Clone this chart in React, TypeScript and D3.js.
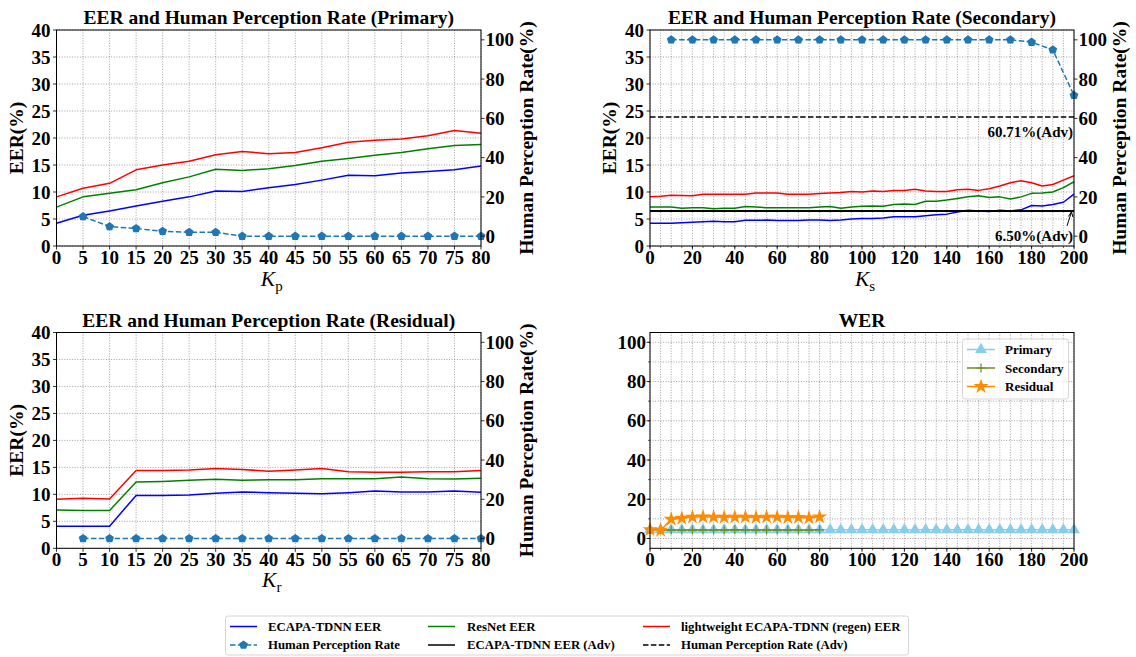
import React from "react";
import * as d3 from "d3";

const F = "'Liberation Serif', 'Times New Roman', serif";

// ---------- data ----------
const kP = [0, 5, 10, 15, 20, 25, 30, 35, 40, 45, 50, 55, 60, 65, 70, 75, 80];
const kHuman = [5, 10, 15, 20, 25, 30, 35, 40, 45, 50, 55, 60, 65, 70, 75, 80];
const primEcapa = [4.2, 5.7, 6.5, 7.4, 8.3, 9.1, 10.2, 10.1, 10.8, 11.4, 12.2, 13.1, 13.0, 13.5, 13.8, 14.1, 14.8];
const primResnet = [7.2, 9.1, 9.75, 10.4, 11.7, 12.8, 14.2, 14.0, 14.3, 14.9, 15.7, 16.2, 16.8, 17.3, 18.0, 18.6, 18.8];
const primLight = [9.1, 10.7, 11.6, 14.1, 15.0, 15.7, 16.9, 17.5, 17.1, 17.3, 18.2, 19.2, 19.6, 19.8, 20.4, 21.4, 20.9];
const primHuman = [10, 4.9, 3.9, 2.5, 2.0, 2.0, 0, 0, 0, 0, 0, 0, 0, 0, 0, 0];

const kS = [0, 5, 10, 15, 20, 25, 30, 35, 40, 45, 50, 55, 60, 65, 70, 75, 80, 85, 90, 95, 100,
  105, 110, 115, 120, 125, 130, 135, 140, 145, 150, 155, 160, 165, 170, 175, 180, 185, 190, 195, 200];
const secEcapa = [4.2, 4.2, 4.2, 4.3, 4.4, 4.5, 4.6, 4.5, 4.5, 4.75, 4.75, 4.8, 4.7, 4.7, 4.7, 4.8, 4.8, 4.7, 4.8, 5.0, 5.1,
  5.1, 5.2, 5.4, 5.4, 5.4, 5.6, 5.8, 5.9, 6.3, 6.6, 6.5, 6.4, 6.6, 6.5, 6.7, 7.5, 7.4, 7.7, 8.1, 9.6];
const secResnet = [7.2, 7.2, 7.2, 7.0, 7.1, 7.1, 6.9, 7.0, 7.0, 7.3, 7.2, 7.1, 7.1, 7.1, 7.1, 7.1, 7.2, 7.3, 7.0, 7.2, 7.35,
  7.4, 7.35, 7.7, 7.8, 7.7, 8.3, 8.3, 8.5, 8.8, 9.1, 9.3, 9.0, 9.1, 8.7, 9.1, 9.75, 9.8, 10.0, 10.8, 11.9];
const secLight = [9.1, 9.2, 9.4, 9.35, 9.3, 9.6, 9.6, 9.6, 9.6, 9.6, 9.8, 9.8, 9.8, 9.6, 9.6, 9.6, 9.7, 9.8, 9.9, 10.1, 10.0,
  10.2, 10.1, 10.3, 10.3, 10.5, 10.2, 10.1, 10.1, 10.4, 10.5, 10.3, 10.6, 11.1, 11.7, 12.1, 11.7, 11.1, 11.4, 12.2, 13.0];
const kSHuman = [10, 20, 30, 40, 50, 60, 70, 80, 90, 100, 110, 120, 130, 140, 150, 160, 170, 180, 190, 200];
const secHuman = [100, 100, 100, 100, 100, 100, 100, 100, 100, 100, 100, 100, 100, 100, 100, 100, 100, 98.8, 94.9, 71.7];
const advEer = 6.5;
const advHuman = 60.71;

const resEcapa = [4.1, 4.1, 4.1, 9.8, 9.8, 9.9, 10.2, 10.45, 10.3, 10.2, 10.1, 10.3, 10.6, 10.45, 10.45, 10.6, 10.4];
const resResnet = [7.1, 7.0, 7.0, 12.3, 12.4, 12.6, 12.8, 12.6, 12.7, 12.7, 12.9, 12.9, 12.9, 13.2, 12.9, 12.85, 13.0];
const resLight = [9.1, 9.3, 9.15, 14.4, 14.4, 14.5, 14.8, 14.6, 14.3, 14.5, 14.8, 14.2, 14.1, 14.1, 14.2, 14.2, 14.4];
const resHuman = [0, 0, 0, 0, 0, 0, 0, 0, 0, 0, 0, 0, 0, 0, 0, 0];

const werPrimary = [4.4, 4.4, 4.4, 4.4, 4.4, 4.4, 4.4, 4.4, 4.4, 4.4, 4.4, 4.4, 4.4, 4.4, 4.4, 4.4, 4.4, 4.4, 4.4, 4.4, 4.4,
  4.4, 4.4, 4.4, 4.4, 4.4, 4.4, 4.4, 4.4, 4.4, 4.4, 4.4, 4.4, 4.4, 4.4, 4.4, 4.4, 4.4, 4.4, 4.4, 4.4];
const werSecondary = [4.6, 4.3, 4.3, 4.3, 4.3, 4.3, 4.3, 4.3, 4.4, 4.3, 4.3, 4.3, 4.3, 4.3, 4.3, 4.3, 4.4];
const werResidual = [4.5, 4.2, 9.8, 10.3, 10.9, 11.0, 10.9, 10.8, 10.9, 10.9, 10.7, 10.9, 10.9, 10.7, 10.7, 10.5, 11.0];

const eerTicks = [0, 5, 10, 15, 20, 25, 30, 35, 40];
const humanTicks = [0, 20, 40, 60, 80, 100];
const kTicks80 = [0, 5, 10, 15, 20, 25, 30, 35, 40, 45, 50, 55, 60, 65, 70, 75, 80];
const kTicks200 = [0, 20, 40, 60, 80, 100, 120, 140, 160, 180, 200];
const werYTicks = [0, 20, 40, 60, 80, 100];

// ---------- style ----------
const C_BLUE = "#0000ff";
const C_GREEN = "#008000";
const C_RED = "#ff0000";
const C_HUMAN = "#1f77b4";
const C_SKY = "#87ceeb";
const C_OLIVE = "#6b8e23";
const C_ORANGE = "#ff8c00";
const GRID = "#8a8a8a";
const TICK_FS = 19;
const LBL_FS = 19.5;

type Box = { x0: number; x1: number; y0: number; y1: number };

function pentagon(r: number) {
  const pts = d3.range(5).map((i) => {
    const a = -Math.PI / 2 + (i * 2 * Math.PI) / 5;
    return [r * Math.cos(a), r * Math.sin(a)];
  });
  return "M" + pts.map((p) => p[0].toFixed(2) + "," + p[1].toFixed(2)).join("L") + "Z";
}
const PENT = pentagon(4.6);

function Grid({ b, xs, ys, sx, sy }: { b: Box; xs: number[]; ys: number[]; sx: any; sy: any }) {
  return (
    <g stroke={GRID} strokeWidth={0.8} strokeDasharray="1,1.6" fill="none">
      {xs.map((v) => (
        <line key={"gx" + v} x1={sx(v)} x2={sx(v)} y1={b.y0} y2={b.y1} />
      ))}
      {ys.map((v) => (
        <line key={"gy" + v} x1={b.x0} x2={b.x1} y1={sy(v)} y2={sy(v)} />
      ))}
    </g>
  );
}

function Frame({ b }: { b: Box }) {
  return <rect x={b.x0} y={b.y0} width={b.x1 - b.x0} height={b.y1 - b.y0} fill="none" stroke="#000" strokeWidth={1} />;
}

function XTicks({ b, sx, major, minor }: { b: Box; sx: any; major: number[]; minor?: number[] }) {
  return (
    <g>
      {(minor || []).map((v) => (
        <line key={"mn" + v} x1={sx(v)} x2={sx(v)} y1={b.y1} y2={b.y1 + 2} stroke="#000" strokeWidth={0.6} />
      ))}
      {major.map((v) => (
        <g key={"mj" + v}>
          <line x1={sx(v)} x2={sx(v)} y1={b.y1} y2={b.y1 + 3.5} stroke="#000" strokeWidth={0.8} />
          <text x={sx(v)} y={b.y1 + 18} textAnchor="middle" fontFamily={F} fontWeight="bold" fontSize={TICK_FS}>
            {v}
          </text>
        </g>
      ))}
    </g>
  );
}

function YTicksLeft({ b, sy, major, minor, pad = 6 }: { b: Box; sy: any; major: number[]; minor?: number[]; pad?: number }) {
  return (
    <g>
      {(minor || []).map((v) => (
        <line key={"mn" + v} x1={b.x0} x2={b.x0 - 2} y1={sy(v)} y2={sy(v)} stroke="#000" strokeWidth={0.6} />
      ))}
      {major.map((v) => (
        <g key={"mj" + v}>
          <line x1={b.x0} x2={b.x0 - 3.5} y1={sy(v)} y2={sy(v)} stroke="#000" strokeWidth={0.8} />
          <text x={b.x0 - pad} y={sy(v)} dy="0.35em" textAnchor="end" fontFamily={F} fontWeight="bold" fontSize={TICK_FS}>
            {v}
          </text>
        </g>
      ))}
    </g>
  );
}

function YTicksRight({ b, sy, major }: { b: Box; sy: any; major: number[] }) {
  return (
    <g>
      {major.map((v) => (
        <g key={"r" + v}>
          <line x1={b.x1} x2={b.x1 + 3.5} y1={sy(v)} y2={sy(v)} stroke="#000" strokeWidth={0.8} />
          <text x={b.x1 + 4.5} y={sy(v)} dy="0.35em" textAnchor="start" fontFamily={F} fontWeight="bold" fontSize={TICK_FS}>
            {v}
          </text>
        </g>
      ))}
    </g>
  );
}

function Series({ xs, ys, sx, sy, color, width = 1.5, dash }: any) {
  const line = d3
    .line<number>()
    .x((_, i) => sx(xs[i]))
    .y((d) => sy(d));
  return <path d={line(ys) || ""} fill="none" stroke={color} strokeWidth={width} strokeDasharray={dash} strokeLinejoin="round" />;
}

function HumanSeries({ xs, ys, sx, sy }: any) {
  return (
    <g>
      <Series xs={xs} ys={ys} sx={sx} sy={sy} color={C_HUMAN} dash="5.5,2.4" />
      {ys.map((v: number, i: number) => (
        <path key={i} d={PENT} transform={`translate(${sx(xs[i])},${sy(v)})`} fill={C_HUMAN} />
      ))}
    </g>
  );
}

function KLabel({ cx, y, sub }: { cx: number; y: number; sub: string }) {
  return (
    <text x={cx} y={y} textAnchor="middle" fontFamily={F} fontSize={21.5}>
      <tspan fontStyle="italic">K</tspan>
      <tspan fontSize={15} dy={4.5}>
        {sub}
      </tspan>
    </text>
  );
}

function Title({ b, text, y }: { b: Box; text: string; y: number }) {
  return (
    <text x={(b.x0 + b.x1) / 2} y={y} textAnchor="middle" fontFamily={F} fontWeight="bold" fontSize={LBL_FS}>
      {text}
    </text>
  );
}

function VLabel({ x, cy, text }: { x: number; cy: number; text: string }) {
  return (
    <text transform={`translate(${x},${cy}) rotate(-90)`} textAnchor="middle" fontFamily={F} fontWeight="bold" fontSize={LBL_FS}>
      {text}
    </text>
  );
}

function EerPanel({ b, title, xs, xMax, xMajor, xMinor, ecapa, resnet, light, hx, hy, sub, titleY, kY, adv }: any) {
  const sx = d3.scaleLinear().domain([0, xMax]).range([b.x0, b.x1]);
  const sy = d3.scaleLinear().domain([0, 40]).range([b.y1, b.y0]);
  const sy2 = d3.scaleLinear().domain([-5, 105]).range([b.y1, b.y0]);
  const gridXs = xMinor || xMajor;
  const cy = (b.y0 + b.y1) / 2;
  return (
    <g>
      <Grid b={b} xs={gridXs} ys={eerTicks} sx={sx} sy={sy} />
      <Series xs={xs} ys={ecapa} sx={sx} sy={sy} color={C_BLUE} />
      <Series xs={xs} ys={resnet} sx={sx} sy={sy} color={C_GREEN} />
      <Series xs={xs} ys={light} sx={sx} sy={sy} color={C_RED} />
      {adv && (
        <g>
          <line x1={b.x0} x2={b.x1} y1={sy(advEer)} y2={sy(advEer)} stroke="#000" strokeWidth={2} />
          <line x1={b.x0} x2={b.x1} y1={sy2(advHuman)} y2={sy2(advHuman)} stroke="#000" strokeWidth={1.5} strokeDasharray="5.5,2.4" />
        </g>
      )}
      <HumanSeries xs={hx} ys={hy} sx={sx} sy={sy2} />
      {adv && (
        <g>
          <text x={b.x1 - 1} y={sy2(advHuman) + 20} textAnchor="end" fontFamily={F} fontWeight="bold" fontSize={15}>
            {advHuman.toFixed(2) + "%(Adv)"}
          </text>
          <text x={b.x1 - 1} y={sy(advEer) + 30} textAnchor="end" fontFamily={F} fontWeight="bold" fontSize={15}>
            {advEer.toFixed(2) + "%(Adv)"}
          </text>
          <line x1={b.x1 - 7} y1={sy(advEer) + 15} x2={b.x1 - 2.5} y2={sy(advEer) + 1} stroke="#000" strokeWidth={1} />
          <path
            d={`M${b.x1 - 2.5},${sy(advEer) + 1} l-3.2,4.6 M${b.x1 - 2.5},${sy(advEer) + 1} l1.4,5.2`}
            stroke="#000"
            strokeWidth={1}
            fill="none"
          />
        </g>
      )}
      <Frame b={b} />
      <XTicks b={b} sx={sx} major={xMajor} minor={xMinor} />
      <YTicksLeft b={b} sy={sy} major={eerTicks} />
      <YTicksRight b={b} sy={sy2} major={humanTicks} />
      <Title b={b} text={title} y={titleY} />
      <KLabel cx={(b.x0 + b.x1) / 2 + 3} y={kY} sub={sub} />
      <VLabel x={b.x0 - 34} cy={cy} text="EER(%)" />
      <VLabel x={b.x1 + 52} cy={cy} text="Human Perception Rate(%)" />
    </g>
  );
}

function WerPanel({ b }: { b: Box }) {
  const sx = d3.scaleLinear().domain([0, 200]).range([b.x0, b.x1]);
  const sy = d3.scaleLinear().domain([-5, 105]).range([b.y1, b.y0]);
  const minorX = kS;
  const minorY = [0, 10, 20, 30, 40, 50, 60, 70, 80, 90, 100];
  const tri = d3.symbol().type(d3.symbolTriangle).size(60)() || "";
  const star = d3.symbol().type(d3.symbolStar).size(70)() || "";
  const lineX = (i: number) => sx(kS[i]);
  const lx = 967, ltx = 1005;
  const rows = [349.5, 368, 386.5];
  return (
    <g>
      <Grid b={b} xs={minorX} ys={minorY} sx={sx} sy={sy} />
      <Series xs={kS} ys={werPrimary} sx={sx} sy={sy} color={C_SKY} />
      {werPrimary.map((v, i) => (
        <path key={"p" + i} d={tri} transform={`translate(${lineX(i)},${sy(v)})`} fill={C_SKY} />
      ))}
      <Series xs={kP} ys={werSecondary} sx={sx} sy={sy} color={C_OLIVE} />
      {werSecondary.map((v, i) => (
        <path key={"s" + i} d="M-4.5,0H4.5M0,-4.5V4.5" transform={`translate(${sx(kP[i])},${sy(v)})`} stroke={C_OLIVE} strokeWidth={1.2} />
      ))}
      <Series xs={kP} ys={werResidual} sx={sx} sy={sy} color={C_ORANGE} />
      {werResidual.map((v, i) => (
        <path key={"r" + i} d={star} transform={`translate(${sx(kP[i])},${sy(v)})`} fill={C_ORANGE} />
      ))}
      <Frame b={b} />
      <XTicks b={b} sx={sx} major={kTicks200} minor={minorX} />
      <YTicksLeft b={b} sy={sy} major={werYTicks} minor={minorY} pad={4} />
      <Title b={b} text="WER" y={326.5} />
      <rect x={962.5} y={339} width={106} height={60} rx={2.5} fill="#fff" fillOpacity={0.8} stroke="#cccccc" strokeWidth={0.8} />
      <line x1={lx} x2={lx + 28} y1={rows[0]} y2={rows[0]} stroke={C_SKY} strokeWidth={1.5} />
      <path d={tri} transform={`translate(${lx + 14},${rows[0]})`} fill={C_SKY} />
      <line x1={lx} x2={lx + 28} y1={rows[1]} y2={rows[1]} stroke={C_OLIVE} strokeWidth={1.5} />
      <path d="M-4.5,0H4.5M0,-4.5V4.5" transform={`translate(${lx + 14},${rows[1]})`} stroke={C_OLIVE} strokeWidth={1.2} />
      <line x1={lx} x2={lx + 28} y1={rows[2]} y2={rows[2]} stroke={C_ORANGE} strokeWidth={1.5} />
      <path d={star} transform={`translate(${lx + 14},${rows[2]})`} fill={C_ORANGE} />
      {["Primary", "Secondary", "Residual"].map((t, i) => (
        <text key={t} x={ltx} y={rows[i]} dy="0.35em" fontFamily={F} fontWeight="bold" fontSize={13}>
          {t}
        </text>
      ))}
    </g>
  );
}

function BottomLegend() {
  const r1 = 626.5, r2 = 645;
  const fs = 12.8;
  const cols = [230, 428, 643];
  const tcols = [268, 467, 681];
  const items = [
    { c: 0, r: r1, color: C_BLUE, text: "ECAPA-TDNN EER" },
    { c: 1, r: r1, color: C_GREEN, text: "ResNet EER" },
    { c: 2, r: r1, color: C_RED, text: "lightweight ECAPA-TDNN (regen) EER" },
    { c: 0, r: r2, color: C_HUMAN, text: "Human Perception Rate", dash: "5.5,2.4", marker: true },
    { c: 1, r: r2, color: "#000", text: "ECAPA-TDNN EER (Adv)" },
    { c: 2, r: r2, color: "#000", text: "Human Perception Rate (Adv)", dash: "5.5,2.4" },
  ];
  return (
    <g>
      <rect x={225.5} y={616} width={683} height={39} rx={2.5} fill="#fff" stroke="#cccccc" strokeWidth={0.8} />
      {items.map((it, i) => (
        <g key={i}>
          <line x1={cols[it.c]} x2={cols[it.c] + 27} y1={it.r} y2={it.r} stroke={it.color} strokeWidth={1.5} strokeDasharray={it.dash} />
          {it.marker && <path d={PENT} transform={`translate(${cols[it.c] + 13.5},${it.r})`} fill={C_HUMAN} />}
          <text x={tcols[it.c]} y={it.r} dy="0.35em" fontFamily={F} fontWeight="bold" fontSize={fs}>
            {it.text}
          </text>
        </g>
      ))}
    </g>
  );
}

export default function App() {
  const tl: Box = { x0: 56.5, x1: 481, y0: 30, y1: 246 };
  const tr: Box = { x0: 650, x1: 1074, y0: 30, y1: 246 };
  const bl: Box = { x0: 56.5, x1: 481, y0: 332.5, y1: 548.3 };
  const br: Box = { x0: 650, x1: 1074, y0: 332.5, y1: 548.3 };
  return (
    <svg width={1136} height={657} style={{ position: "absolute", left: 0, top: 0, background: "#fff" }}>
      <rect width={1136} height={657} fill="#fff" />
      <EerPanel
        b={tl}
        title="EER and Human Perception Rate (Primary)"
        xs={kP}
        xMax={80}
        xMajor={kTicks80}
        ecapa={primEcapa}
        resnet={primResnet}
        light={primLight}
        hx={kHuman}
        hy={primHuman}
        sub="p"
        titleY={23.5}
        kY={286}
      />
      <EerPanel
        b={tr}
        title="EER and Human Perception Rate (Secondary)"
        xs={kS}
        xMax={200}
        xMajor={kTicks200}
        xMinor={kS}
        ecapa={secEcapa}
        resnet={secResnet}
        light={secLight}
        hx={kSHuman}
        hy={secHuman}
        sub="s"
        titleY={23.5}
        kY={286}
        adv
      />
      <EerPanel
        b={bl}
        title="EER and Human Perception Rate (Residual)"
        xs={kP}
        xMax={80}
        xMajor={kTicks80}
        ecapa={resEcapa}
        resnet={resResnet}
        light={resLight}
        hx={kHuman}
        hy={resHuman}
        sub="r"
        titleY={326.5}
        kY={587}
      />
      <WerPanel b={br} />
      <BottomLegend />
    </svg>
  );
}
